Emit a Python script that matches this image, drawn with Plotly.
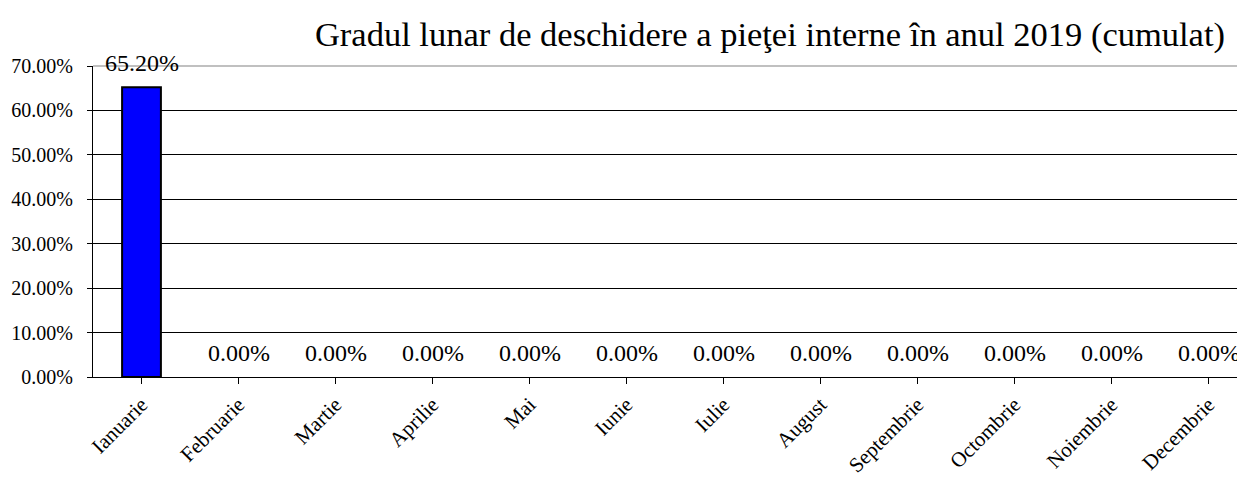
import plotly.graph_objects as go

months = ["Ianuarie", "Februarie", "Martie", "Aprilie", "Mai", "Iunie", "Iulie",
          "August", "Septembrie", "Octombrie", "Noiembrie", "Decembrie"]
values = [0.652, 0, 0, 0, 0, 0, 0, 0, 0, 0, 0, 0]
y_ticks = [0, 0.1, 0.2, 0.3, 0.4, 0.5, 0.6, 0.7]
y_tick_text = ["0.00%", "10.00%", "20.00%", "30.00%", "40.00%", "50.00%", "60.00%", "70.00%"]
title_text = "Gradul lunar de deschidere a pieţei interne în anul 2019 (cumulat)"

FONT = "Liberation Serif, Times New Roman, serif"

fig = go.Figure()
fig.add_trace(go.Bar(
    x=list(range(len(months))), y=values,
    marker=dict(color="#0000ff",
                line=dict(color="black", width=[2 if v > 0 else 0 for v in values])),
    width=0.4,
    hoverinfo="skip",
))

for i, v in enumerate(values):
    fig.add_annotation(x=i, y=v, text=f"{v*100:.2f}%", showarrow=False,
                       yanchor="bottom", yshift=9,
                       font=dict(family=FONT, size=24, color="black"))

fig.add_shape(type="line", xref="paper", yref="paper", x0=0, x1=1, y0=1, y1=1,
              line=dict(color="#c0c0c0", width=2), layer="below")

fig.update_layout(
    width=1237, height=471,
    margin=dict(l=85, r=0, t=58, b=102, autoexpand=False),
    paper_bgcolor="white", plot_bgcolor="white",
    showlegend=False,
    title=dict(text=title_text, x=0.616, xanchor="center", y=0.946, yanchor="middle",
               font=dict(family=FONT, size=34.5, color="black")),
    font=dict(family=FONT, color="black"),
)
fig.update_xaxes(
    range=[-0.5, 11.376], automargin=False,
    tickmode="array", tickvals=list(range(len(months))), ticktext=months,
    tickangle=-45, tickson="boundaries", ticks="outside", ticklen=6,
    tickcolor="black", showline=True, linecolor="black", linewidth=1,
    showgrid=False, tickfont=dict(family=FONT, size=21, color="black"),
)
fig.update_yaxes(
    range=[0, 0.7], automargin=False,
    tickmode="array", tickvals=y_ticks, ticktext=y_tick_text,
    ticks="outside", ticklen=5, tickcolor="black", ticklabelstandoff=10,
    showline=True, linecolor="black", linewidth=1,
    showgrid=True, gridcolor="black", gridwidth=1, zeroline=False,
    tickfont=dict(family=FONT, size=20, color="black"),
)

fig.write_html("out.html")
